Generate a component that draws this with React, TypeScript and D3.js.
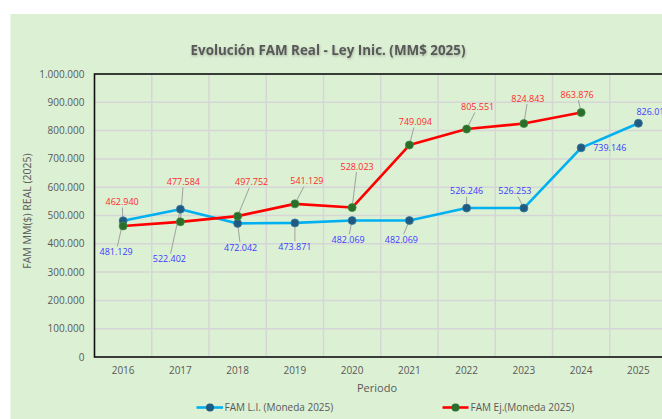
import React from "react";
import * as d3 from "d3";

const years = ["2016", "2017", "2018", "2019", "2020", "2021", "2022", "2023", "2024", "2025"];
const famLI: (number | null)[] = [481129, 522402, 472042, 473871, 482069, 482069, 526246, 526253, 739146, 826010];
const famEj: (number | null)[] = [462940, 477584, 497752, 541129, 528023, 749094, 805551, 824843, 863876, null];
const yTicks = [0, 100000, 200000, 300000, 400000, 500000, 600000, 700000, 800000, 900000, 1000000];
const seriesNames = ["FAM L.I. (Moneda 2025)", "FAM Ej.(Moneda 2025)"];
const titleText = "Evolución FAM Real - Ley Inic. (MM$ 2025)";
const yTitle = "FAM MM($) REAL (2025)";
const xTitle = "Periodo";

// label placement offsets (layout only)
const liOffsets: [number, number][] = [[-7, 31], [-11, 50], [3, 24], [0, 24], [-4, 19], [-8, 19], [0, -17], [-9, -17], [29, 0], [18, -11]];
const ejOffsets: [number, number][] = [[-1, -24], [3, -40], [14, -34], [12, -23], [5, -41], [6, -23], [11, -22], [4, -25], [-4, -18], [0, 0]];

const fmt = (v: number) => d3.format(",")(v).replace(/,/g, ".");

const FONT = "'Open Sans', 'Noto Sans', sans-serif";
const BG = "#dcf0d4";
const TXT = "#595959";
const GRID = "#d6d6d6";
const BLUE = "#00b0f0";
const BLUE_M = "#1f5a80";
const RED = "#ff0000";
const RED_M = "#2b6e2b";
const BLUE_LBL = "#3c3cff";
const RED_LBL = "#ff2a2a";

export default function App() {
  const W = 662, H = 419;
  const left = 94.5, right = 667, top = 74, bottom = 357;
  const x = d3.scaleBand<string>().domain(years).range([left, right]).padding(0);
  const y = d3.scaleLinear().domain([0, 1000000]).range([bottom, top]);
  const cx = (i: number) => (x(years[i]) as number) + x.bandwidth() / 2;

  const lineGen = d3
    .line<number | null>()
    .defined((d) => d != null)
    .x((_, i) => cx(i))
    .y((d) => y(d as number));

  const labels = (vals: (number | null)[], offs: [number, number][], color: string, key: string) =>
    vals.map((v, i) => {
      if (v == null) return null;
      const px = cx(i), py = y(v);
      const [dx, dy] = offs[i];
      const lx = px + dx, ly = py + dy;
      const txt = fmt(v);
      const hw = 17, hh = 5.5;
      let leader = null;
      if (Math.abs(dy) >= 15) {
        const vx = px - lx, vy = py - ly;
        const t = Math.min(vx === 0 ? Infinity : hw / Math.abs(vx), vy === 0 ? Infinity : hh / Math.abs(vy));
        const sx = lx + vx * t, sy = ly + vy * t;
        const len = Math.hypot(px - sx, py - sy);
        const r = 4;
        const ex = px - ((px - sx) / len) * r, ey = py - ((py - sy) / len) * r;
        leader = <line x1={sx} y1={sy} x2={ex} y2={ey} stroke="#a0a0a0" strokeWidth={1} />;
      }
      const isRightLabel = i >= 8 && key === "li";
      return (
        <g key={key + i}>
          {leader}
          <text
            x={isRightLabel ? px + (i === 8 ? 12 : -2) : lx}
            y={ly}
            dy="0.35em"
            textAnchor={isRightLabel ? "start" : "middle"}
            fill={color}
            fontSize={9}
            fontFamily={FONT}
          >
            {txt}
          </text>
        </g>
      );
    });

  return (
    <svg width={W} height={H} style={{ position: "absolute", left: 0, top: 0, display: "block" }}>
      <defs>
        <filter id="tshadow" x="-10%" y="-30%" width="120%" height="160%">
          <feDropShadow dx="0.5" dy="1.2" stdDeviation="0.8" floodColor="#000" floodOpacity="0.25" />
        </filter>
      </defs>
      <rect x={0} y={0} width={W} height={H} fill="#fff" />
      <rect x={10.5} y={14} width={W} height={H} fill={BG} />

      <text x={328} y={50} dy="0.35em" textAnchor="middle" fontFamily={FONT} fontWeight="bold" fontSize={13.4} fill={TXT} filter="url(#tshadow)">
        {titleText}
      </text>

      {/* grid */}
      {yTicks.filter((t) => t > 0 && t < 1000000).map((t) => (
        <line key={"h" + t} x1={left} x2={right} y1={y(t)} y2={y(t)} stroke={GRID} strokeWidth={1.5} />
      ))}
      {years.slice(1).map((yr) => (
        <line key={"v" + yr} x1={x(yr) as number} x2={x(yr) as number} y1={top} y2={bottom} stroke={GRID} strokeWidth={1.5} />
      ))}
      <rect x={left} y={top} width={right - left} height={bottom - top} fill="none" stroke="#111" strokeWidth={1.6} />

      {/* y ticks */}
      {yTicks.map((t) => (
        <text key={"yt" + t} x={84.5} y={y(t)} dy="0.35em" textAnchor="end" fontSize={10} fontFamily={FONT} fill={TXT}>
          {fmt(t)}
        </text>
      ))}
      {years.map((yr, i) => (
        <text key={"xt" + yr} x={cx(i)} y={370} dy="0.35em" textAnchor="middle" fontSize={10} fontFamily={FONT} fill={TXT}>
          {yr}
        </text>
      ))}
      <text x={377} y={388} dy="0.35em" textAnchor="middle" fontSize={11} fontFamily={FONT} fill={TXT}>
        {xTitle}
      </text>
      <text transform={`translate(27,211) rotate(-90)`} dy="0.35em" textAnchor="middle" fontSize={10.5} fontFamily={FONT} fill={TXT}>
        {yTitle}
      </text>

      {/* leaders + labels below lines */}
      {labels(famLI, liOffsets, BLUE_LBL, "li")}
      {labels(famEj, ejOffsets, RED_LBL, "ej")}

      {/* lines */}
      <path d={lineGen(famLI) as string} fill="none" stroke={BLUE} strokeWidth={2.6} strokeLinejoin="round" />
      <path d={lineGen(famEj) as string} fill="none" stroke={RED} strokeWidth={2.6} strokeLinejoin="round" />
      {famLI.map((v, i) => v != null && <circle key={"mli" + i} cx={cx(i)} cy={y(v)} r={4} fill={BLUE_M} stroke="#3a7aa0" strokeWidth={0.8} />)}
      {famEj.map((v, i) => v != null && <circle key={"mej" + i} cx={cx(i)} cy={y(v)} r={4} fill={RED_M} stroke="#3f8a3f" strokeWidth={0.8} />)}

      {/* legend */}
      <line x1={196.5} x2={223} y1={407.5} y2={407.5} stroke={BLUE} strokeWidth={2.6} />
      <circle cx={210} cy={407.5} r={4} fill={BLUE_M} />
      <text x={224.5} y={407.5} dy="0.35em" fontSize={10} fontFamily={FONT} fill={TXT}>
        {seriesNames[0]}
      </text>
      <line x1={442.5} x2={468.5} y1={407.5} y2={407.5} stroke={RED} strokeWidth={2.6} />
      <circle cx={455.5} cy={407.5} r={4} fill={RED_M} />
      <text x={470.5} y={407.5} dy="0.35em" fontSize={10} fontFamily={FONT} fill={TXT}>
        {seriesNames[1]}
      </text>
    </svg>
  );
}
